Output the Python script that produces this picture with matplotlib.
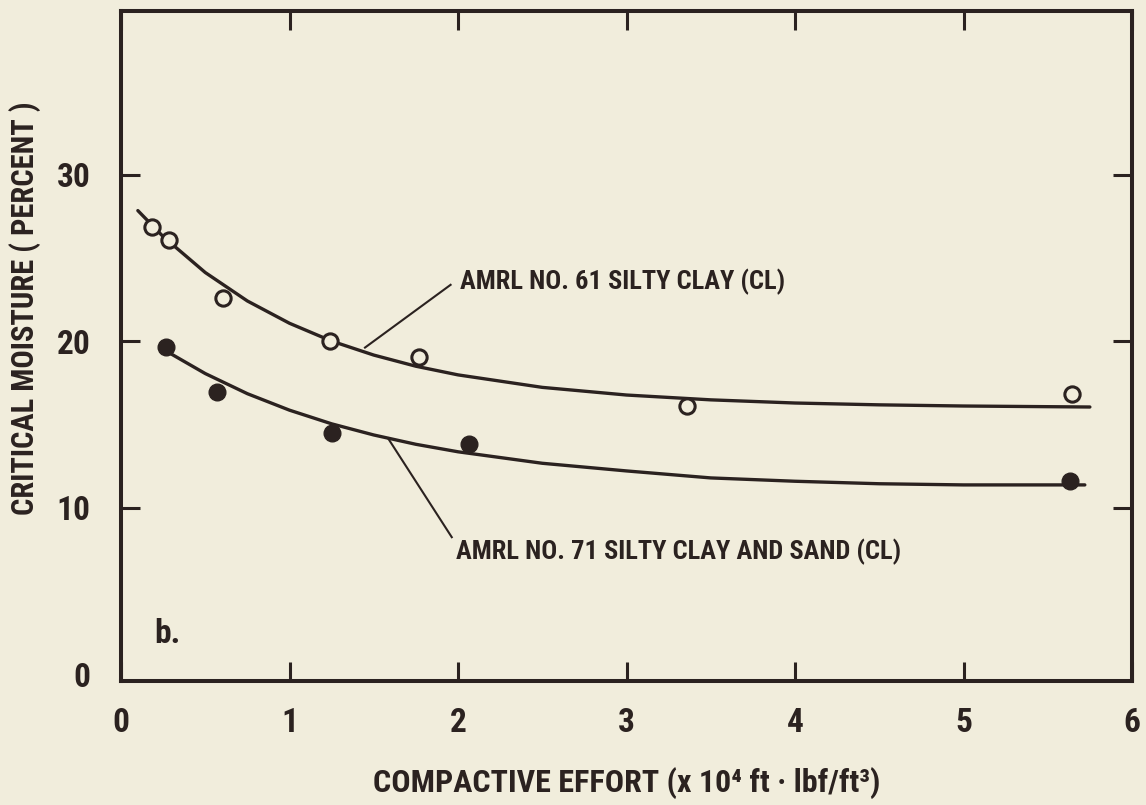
import os
import matplotlib
matplotlib.use("Agg")
import matplotlib.pyplot as plt
from matplotlib import font_manager as fm

PAPER = "#f1eddc"
INK = "#2b2220"

# pick a narrow bold face if the system has one
def find_narrow_bold():
    prefs = ["liberationsansnarrow-bold.", "robotocondensed-bold.",
             "opensans-condensedbold.", "notosans-condensedbold.",
             "dejavusanscondensed-bold."]
    files = {os.path.basename(f.fname).lower(): f for f in fm.fontManager.ttflist}
    for p in prefs:
        for name, f in files.items():
            if name.startswith(p):
                return f
    return None

narrow = find_narrow_bold()
if narrow is not None:
    plt.rcParams["font.family"] = [narrow.name, "DejaVu Sans"]
    plt.rcParams["font.stretch"] = narrow.stretch
    plt.rcParams["font.weight"] = narrow.weight
    FS, FS_TXT, FS_XL, FS_YL = 24, 19, 23, 22
else:
    plt.rcParams["font.family"] = ["DejaVu Sans"]
    plt.rcParams["font.weight"] = "bold"
    FS, FS_TXT, FS_XL, FS_YL = 19, 15, 17, 16

# --- measured points ---
effort_61 = [0.185, 0.287, 0.605, 1.241, 1.768, 3.358, 5.641]
moisture_61 = [26.9, 26.1, 22.6, 20.0, 19.05, 16.13, 16.83]

effort_71 = [0.270, 0.572, 1.253, 2.066, 5.635]
moisture_71 = [19.69, 16.95, 14.49, 13.84, 11.62]

# --- hand-fitted trend curves ---
curve_x_61 = [0.10, 0.25, 0.50, 0.75, 1.00, 1.25, 1.50, 1.75, 2.00, 2.50, 3.00,
              3.50, 4.00, 4.50, 5.00, 5.75]
curve_y_61 = [27.86, 26.3, 24.14, 22.43, 21.09, 20.02, 19.18, 18.51, 17.99, 17.24,
              16.78, 16.49, 16.3, 16.19, 16.12, 16.06]

curve_x_71 = [0.28, 0.50, 0.75, 1.00, 1.25, 1.50, 1.75, 2.00, 2.50, 3.00, 3.50,
              4.00, 4.50, 5.00, 5.72]
curve_y_71 = [19.35, 18.07, 16.86, 15.87, 15.05, 14.38, 13.82, 13.37, 12.68, 12.22,
              11.8, 11.6, 11.45, 11.38, 11.38]

x_ticks = [0, 1, 2, 3, 4, 5, 6]
y_ticks = [0, 10, 20, 30]

fig = plt.figure(figsize=(11.46, 8.05), dpi=100, facecolor=PAPER)
ax = fig.add_axes([121 / 1146, 1 - 681 / 805, 1011 / 1146, 670 / 805])
ax.set_facecolor(PAPER)

ax.plot(curve_x_61, curve_y_61, color=INK, lw=2.4, solid_joinstyle="round",
        solid_capstyle="round", zorder=2)
ax.plot(curve_x_71, curve_y_71, color=INK, lw=2.4, solid_joinstyle="round",
        solid_capstyle="round", zorder=2)

ax.plot(effort_61, moisture_61, "o", ms=11, mfc=PAPER, mec=INK, mew=2.2, zorder=3)
ax.plot(effort_71, moisture_71, "o", ms=12, mfc=INK, mec=INK, mew=1, zorder=3)

ax.set_xlim(0, 6)
ax.set_ylim(-0.4, 39.85)

# leader lines and curve labels
ax.plot([1.448, 1.956], [19.63, 23.4], color=INK, lw=1.5)
ax.text(2.01, 23.6, "AMRL NO. 61 SILTY CLAY (CL)", fontsize=FS_TXT, color=INK,
        ha="left", va="center")
ax.plot([1.585, 1.963], [14.18, 8.24], color=INK, lw=1.5)
ax.text(1.99, 7.38, "AMRL NO. 71 SILTY CLAY AND SAND (CL)", fontsize=FS_TXT,
        color=INK, ha="left", va="center")
ax.text(0.2, 2.4, "b.", fontsize=FS, color=INK, ha="left", va="center")

for s in ax.spines.values():
    s.set_linewidth(2.9)
    s.set_color(INK)

ax.set_xticks(x_ticks)
ax.set_yticks(y_ticks)
ax.tick_params(direction="in", length=14, width=2.2, colors=INK, labelsize=FS,
               top=True, right=True)
ax.tick_params(axis="x", pad=19)
ax.tick_params(axis="y", pad=22)
ax.yaxis.get_major_ticks()[0].tick1line.set_visible(False)
ax.yaxis.get_major_ticks()[0].tick2line.set_visible(False)

ax.set_xlabel("COMPACTIVE EFFORT (x 10\u2074 ft \u00b7 lbf/ft\u00b3)", fontsize=FS_XL,
              color=INK, fontweight=plt.rcParams["font.weight"])
ax.xaxis.set_label_coords(0.5, -0.152)
ax.xaxis.label.set_va("center")
ax.set_ylabel("CRITICAL MOISTURE ( PERCENT )", fontsize=FS_YL, color=INK,
              fontweight=plt.rcParams["font.weight"])
ax.yaxis.set_label_coords(-0.095, 0.557)
ax.yaxis.label.set_va("center")

fig.savefig("out.png", dpi=100, facecolor=PAPER)
